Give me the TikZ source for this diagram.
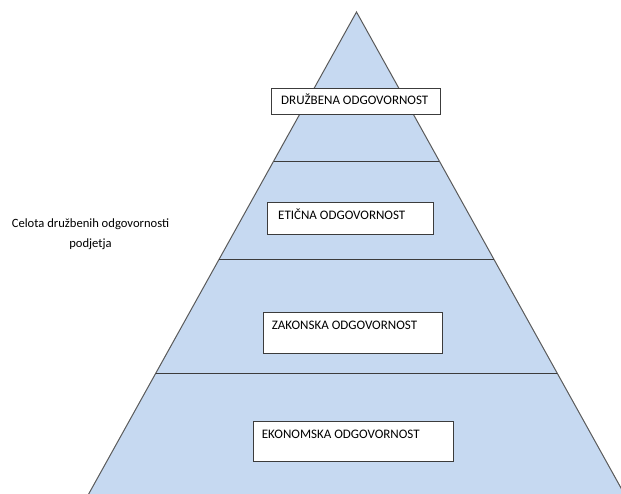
\documentclass[tikz,border=0pt]{standalone}
\usepackage{fontspec}
\setmainfont{Carlito}
\usetikzlibrary{calc}
\definecolor{tierfill}{HTML}{C6D9F1}
\definecolor{edgegray}{HTML}{5A5A5A}
\definecolor{rulegray}{HTML}{3C3C3C}
\begin{document}
\begin{tikzpicture}[x=1pt,y=-1pt,
  tierbox/.style={draw=rulegray,fill=white,line width=1pt,inner sep=0pt,anchor=north west},
  tiertext/.style={inner sep=0pt,anchor=base west,font=\fontsize{13}{15}\selectfont},
  divider/.style={draw=rulegray,line width=1pt}]
\useasboundingbox (0,0) rectangle (621,493);
\clip (0,0) rectangle (621,493);

% pyramid body
\coordinate (apex) at (356.5,12);
\coordinate (bl) at (356.5-0.5557*496,508);
\coordinate (br) at (356.5+0.5557*496,508);
\filldraw[fill=tierfill,draw=edgegray,line width=1pt] (apex) -- (br) -- (bl) -- cycle;

% tier dividers
\foreach \n/\yy in {d1/161.3,d2/259.5,d3/373.3}{
  \coordinate (\n l) at (356.5-0.5557*\yy+0.5557*12,\yy);
  \coordinate (\n r) at (356.5+0.5557*\yy-0.5557*12,\yy);
  \draw[divider] (\n l) -- (\n r);
}

% labelled boxes
\node[tierbox,minimum width=169.3pt,minimum height=26pt] (b1) at (270.7,88.3) {};
\node[tiertext] (t1) at ($(b1.north west)+(10.3,16)$) {DRUŽBENA ODGOVORNOST};

\node[tierbox,minimum width=166.6pt,minimum height=32.6pt] (b2) at (266.7,201.7) {};
\node[tiertext] (t2) at ($(b2.north west)+(11.3,17.3)$) {ETIČNA ODGOVORNOST};

\node[tierbox,minimum width=179.6pt,minimum height=41pt] (b3) at (262.7,311.7) {};
\node[tiertext] (t3) at ($(b3.north west)+(9,17.3)$) {ZAKONSKA ODGOVORNOST};

\node[tierbox,minimum width=200pt,minimum height=40.3pt] (b4) at (252.7,420.7) {};
\node[tiertext] (t4) at ($(b4.north west)+(9,17.6)$) {EKONOMSKA ODGOVORNOST};

% side caption
\node[inner sep=0pt,anchor=north,align=center,font=\fontsize{12.6}{20}\selectfont] (cap) at (90.5,218.5)
  {Celota družbenih odgovornosti\\podjetja};
\end{tikzpicture}
\end{document}
